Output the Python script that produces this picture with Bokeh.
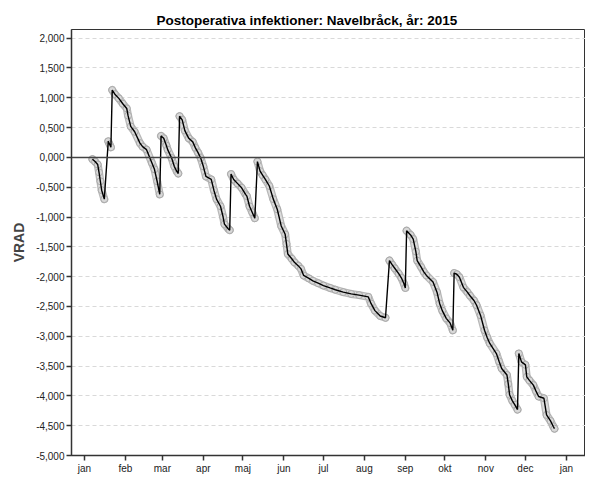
import pandas as pd
import numpy as np
from bokeh.plotting import figure
from bokeh.models import FixedTicker, Span, ColumnDataSource
from bokeh.embed import file_html
from bokeh.resources import INLINE

title_text = "Postoperativa infektioner: Navelbråck, år: 2015"
y_label = "VRAD"

dates = [
    # seg 1
    "2015-01-07", "2015-01-09", "2015-01-11", "2015-01-12", "2015-01-13", "2015-01-14", "2015-01-16",
    # seg 2
    "2015-01-19", "2015-01-20", "2015-01-21",
    # seg 3
    "2015-01-22", "2015-01-24", "2015-01-27", "2015-01-30", "2015-02-02", "2015-02-03", "2015-02-05",
    "2015-02-08", "2015-02-12", "2015-02-14", "2015-02-17", "2015-02-21", "2015-02-23", "2015-02-25", "2015-02-27",
    # seg 4
    "2015-02-28", "2015-03-02", "2015-03-04", "2015-03-05", "2015-03-08", "2015-03-10", "2015-03-12", "2015-03-13",
    # seg 5
    "2015-03-14", "2015-03-16", "2015-03-18", "2015-03-21", "2015-03-24", "2015-03-26", "2015-03-28", "2015-03-30",
    "2015-04-01", "2015-04-03", "2015-04-07", "2015-04-09", "2015-04-11", "2015-04-14", "2015-04-16", "2015-04-17",
    "2015-04-20", "2015-04-21",
    # seg 6
    "2015-04-22", "2015-04-24", "2015-04-27", "2015-04-30", "2015-05-03", "2015-05-04", "2015-05-06", "2015-05-08",
    "2015-05-10",
    # seg 7
    "2015-05-12", "2015-05-14", "2015-05-16", "2015-05-18", "2015-05-21", "2015-05-24", "2015-05-27", "2015-05-30",
    "2015-06-02", "2015-06-03", "2015-06-04", "2015-06-07", "2015-06-09", "2015-06-12", "2015-06-14", "2015-06-16",
    "2015-06-20", "2015-06-23", "2015-06-27", "2015-07-01", "2015-07-06", "2015-07-10", "2015-07-16", "2015-07-22",
    "2015-07-28", "2015-08-04", "2015-08-06", "2015-08-09", "2015-08-13", "2015-08-17",
    # seg 8
    "2015-08-20", "2015-08-22", "2015-08-24", "2015-08-27", "2015-08-29", "2015-08-31", "2015-09-01",
    # seg 9
    "2015-09-02", "2015-09-05", "2015-09-07", "2015-09-09", "2015-09-10", "2015-09-13", "2015-09-15", "2015-09-17",
    "2015-09-22", "2015-09-25", "2015-09-27", "2015-09-29", "2015-10-02", "2015-10-05", "2015-10-07",
    # seg 10
    "2015-10-08", "2015-10-10", "2015-10-12", "2015-10-15", "2015-10-18", "2015-10-20", "2015-10-23", "2015-10-25",
    "2015-10-28", "2015-10-31", "2015-11-02", "2015-11-04", "2015-11-09", "2015-11-11", "2015-11-13", "2015-11-17",
    "2015-11-18", "2015-11-19", "2015-11-21", "2015-11-23", "2015-11-25",
    # seg 11
    "2015-11-26", "2015-11-28", "2015-12-01", "2015-12-02", "2015-12-04", "2015-12-07", "2015-12-09", "2015-12-11",
    "2015-12-15", "2015-12-17", "2015-12-20", "2015-12-22", "2015-12-23",
]

vrad = [
    -0.03, -0.07, -0.12, -0.25, -0.40, -0.55, -0.70,
    0.27, 0.22, 0.17,
    1.13, 1.06, 0.99, 0.90, 0.82, 0.70, 0.52,
    0.43, 0.24, 0.18, 0.13, -0.09, -0.20, -0.40, -0.62,
    0.36, 0.32, 0.20, 0.13, -0.01, -0.15, -0.24, -0.27,
    0.69, 0.63, 0.45, 0.32, 0.26, 0.16, 0.08, -0.01,
    -0.15, -0.32, -0.37, -0.55, -0.70, -0.82, -1.00, -1.12,
    -1.20, -1.22,
    -0.28, -0.37, -0.44, -0.51, -0.62, -0.65, -0.82, -0.92,
    -1.02,
    -0.07, -0.23, -0.30, -0.37, -0.48, -0.70, -0.87, -1.15,
    -1.29, -1.45, -1.62, -1.70, -1.76, -1.82, -1.87, -1.98,
    -2.03, -2.07, -2.11, -2.15, -2.19, -2.22, -2.26, -2.29,
    -2.31, -2.34, -2.45, -2.57, -2.66, -2.69,
    -1.73, -1.80, -1.86, -1.95, -2.02, -2.12, -2.19,
    -1.23, -1.30, -1.37, -1.58, -1.73, -1.84, -1.92, -1.98,
    -2.09, -2.26, -2.45, -2.57, -2.70, -2.78, -2.90,
    -1.94, -1.96, -2.01, -2.18, -2.26, -2.32, -2.40, -2.48,
    -2.65, -2.90, -3.02, -3.12, -3.29, -3.42, -3.54, -3.65,
    -3.80, -3.98, -4.08, -4.15, -4.23,
    -3.29, -3.43, -3.48, -3.68, -3.74, -3.82, -3.92, -4.01,
    -4.04, -4.32, -4.42, -4.51, -4.55,
]

month_starts = ["2015-01-01", "2015-02-01", "2015-03-01", "2015-04-01", "2015-05-01", "2015-06-01",
                "2015-07-01", "2015-08-01", "2015-09-01", "2015-10-01", "2015-11-01", "2015-12-01",
                "2016-01-01"]
month_labels = ["jan", "feb", "mar", "apr", "maj", "jun", "jul", "aug", "sep", "okt", "nov", "dec", "jan"]

y_ticks = [-5.0, -4.5, -4.0, -3.5, -3.0, -2.5, -2.0, -1.5, -1.0, -0.5, 0.0, 0.5, 1.0, 1.5, 2.0]

origin = pd.Timestamp("2015-01-01")
x = np.array([(pd.Timestamp(d) - origin).days for d in dates], dtype=float)
y = np.array(vrad, dtype=float)
mx = [float((pd.Timestamp(d) - origin).days) for d in month_starts]

FONT = "Liberation Sans"

p = figure(width=585, height=476, output_backend="svg", toolbar_location=None,
           x_range=(-9.85, 379.5), y_range=(-5.0, 2.145),
           min_border_left=71, min_border_right=0, min_border_top=29, min_border_bottom=17,
           background_fill_color="white", border_fill_color="white")

p.title.text = title_text
p.title.align = "left"
p.title.text_font = FONT
p.title.text_font_size = "13.5px"
p.title.text_font_style = "bold"
p.title.text_color = "#000000"
p.title.offset = 85
p.title.standoff = 3

p.outline_line_color = "#333333"
p.outline_line_width = 1

p.xgrid.visible = False
p.ygrid.ticker = FixedTicker(ticks=y_ticks)
p.ygrid.grid_line_color = "#d9d9d9"
p.ygrid.grid_line_dash = "4 3"
p.ygrid.grid_line_width = 1

p.yaxis.ticker = FixedTicker(ticks=y_ticks)
p.yaxis.major_label_overrides = {t: ("%.3f" % t).replace(".", ",") for t in y_ticks}
p.xaxis.ticker = FixedTicker(ticks=mx)
p.xaxis.major_label_overrides = {t: l for t, l in zip(mx, month_labels)}

for ax in (p.xaxis, p.yaxis):
    ax.axis_line_color = "#333333"
    ax.axis_line_width = 1.5
    ax.major_tick_line_color = "#333333"
    ax.major_tick_line_width = 1.5
    ax.major_tick_out = 5
    ax.major_tick_in = 0
    ax.minor_tick_line_color = None
    ax.major_label_text_font = FONT
    ax.major_label_text_font_size = "10px"
    ax.major_label_text_color = "#222222"
    ax.major_label_standoff = 2

p.yaxis.axis_label = y_label
p.yaxis.axis_label_text_font = FONT
p.yaxis.axis_label_text_font_size = "14px"
p.yaxis.axis_label_text_font_style = "bold"
p.yaxis.axis_label_standoff = 6

p.add_layout(Span(location=0, dimension="width", line_color="#444444", line_width=1.5))

# split into descending runs (breaks where VRAD jumps up)
breaks = np.where(np.diff(y) > 0)[0] + 1
segs_x = [s.tolist() for s in np.split(x, breaks)]
segs_y = [s.tolist() for s in np.split(y, breaks)]

p.multi_line(segs_x, segs_y, line_color="#b8b8b8", line_width=8, line_cap="round", line_join="round")
p.multi_line(segs_x, segs_y, line_color="#dcdcdc", line_width=5.5, line_cap="round", line_join="round")
src = ColumnDataSource(dict(x=x, y=y))
p.scatter("x", "y", source=src, size=7, fill_color="#d8d8d8", line_color="#aaaaaa", line_width=1)
p.line("x", "y", source=src, line_color="#000000", line_width=1.4)

open("out.html", "w").write(file_html(p, INLINE))
